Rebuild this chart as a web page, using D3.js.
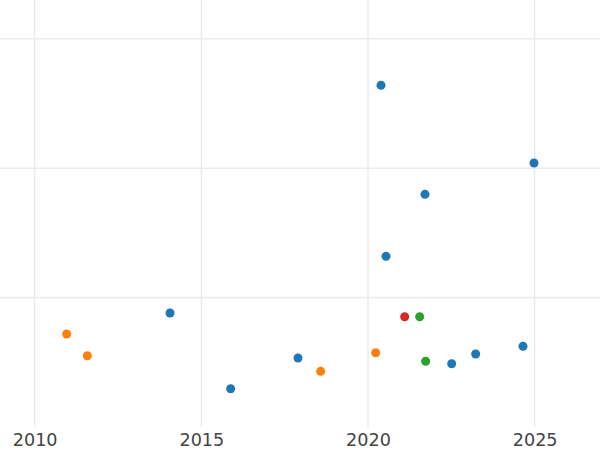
<!DOCTYPE html>
<html>
<head>
<meta charset="utf-8">
<script src="https://cdn.jsdelivr.net/npm/d3@7"></script>
<style>
  body { margin: 0; background: #fff; }
  svg { display: block; }
</style>
</head>
<body>
<div id="chart"></div>
<script>
// donnees
var years  = [2020.39, 2024.98, 2021.71, 2020.54, 2014.06, 2015.88, 2017.90, 2022.51, 2023.23, 2024.65,
              2010.96, 2011.58, 2018.58, 2020.23,
              2021.10,
              2021.55, 2021.73];
var values = [26.41, 20.40, 17.98, 13.19, 8.81, 2.96, 5.33, 4.89, 5.64, 6.24,
              7.19, 5.51, 4.30, 5.74,
              8.52,
              8.52, 5.08];
var groups = ["a", "a", "a", "a", "a", "a", "a", "a", "a", "a",
              "b", "b", "b", "b",
              "d",
              "c", "c"];
var groupNames = ["a", "b", "c", "d"];
var groupColors = ["#1f77b4", "#ff7f0e", "#2ca02c", "#d62728"];
var xTicks = [2010, 2015, 2020, 2025];
var yTicks = [10, 20, 30];

var width = 600, height = 450;
var plotBottom = 427;

var svg = d3.select("#chart").append("svg")
  .attr("width", width)
  .attr("height", height);

var x = d3.scaleLinear().domain([2008.96, 2026.96]).range([0, width]);
var y = d3.scaleLinear().domain([0, 33]).range([plotBottom, 0]);
var color = d3.scaleOrdinal().domain(groupNames).range(groupColors);

// grille verticale
svg.append("g")
  .selectAll("line")
  .data(xTicks)
  .enter()
  .append("line")
  .attr("x1", d => x(d)).attr("x2", d => x(d))
  .attr("y1", 0).attr("y2", plotBottom)
  .attr("stroke", "#ebebeb")
  .attr("stroke-width", 1.5);

// grille horizontale
svg.append("g")
  .selectAll("line")
  .data(yTicks)
  .enter()
  .append("line")
  .attr("x1", 0).attr("x2", width)
  .attr("y1", d => y(d)).attr("y2", d => y(d))
  .attr("stroke", "#ebebeb")
  .attr("stroke-width", 1.5);

// axe x (labels seulement)
var xAxis = svg.append("g")
  .attr("transform", "translate(0," + plotBottom + ")")
  .call(d3.axisBottom(x).tickValues(xTicks).tickFormat(d3.format("d")).tickSize(0).tickPadding(7));
xAxis.select(".domain").remove();
xAxis.selectAll("text")
  .attr("font-family", "DejaVu Sans")
  .attr("font-size", "17.6px")
  .attr("fill", "#444");

// points
svg.append("g")
  .selectAll("circle")
  .data(d3.range(years.length))
  .enter()
  .append("circle")
  .attr("cx", i => x(years[i]))
  .attr("cy", i => y(values[i]))
  .attr("r", 4.5)
  .attr("fill", i => color(groups[i]));
</script>
</body>
</html>
